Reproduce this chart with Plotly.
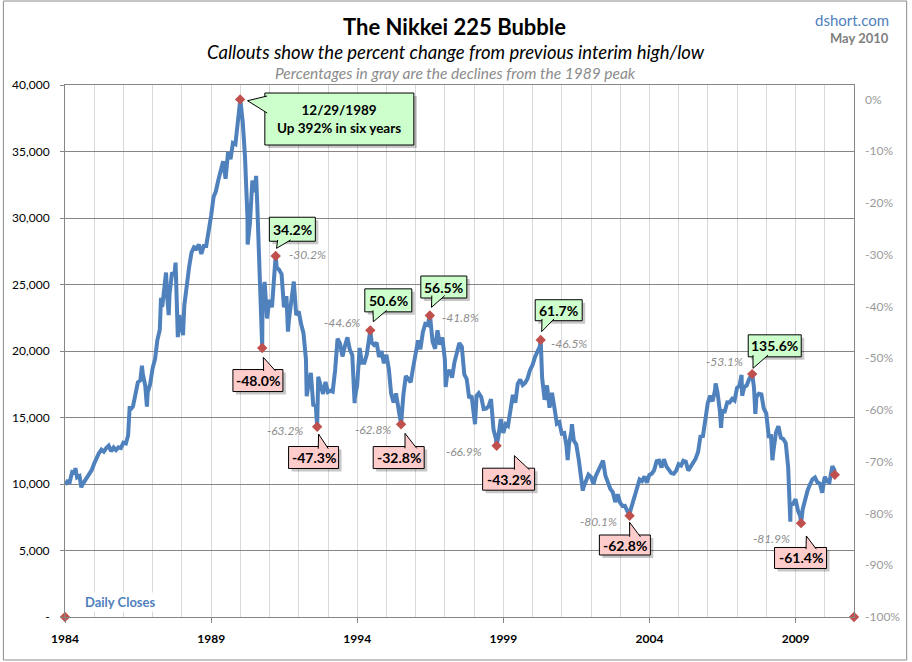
import calendar
import plotly.graph_objects as go

# ---------------- DATA ----------------
# Month-end closes, Jan 1984 .. Apr 2010 (one row per year)
monthly_closes = [
    10200, 10150, 10900, 10850, 10500, 10600, 9900, 10200, 10450, 10700, 11050, 11540,   # 1984
    11990, 12320, 12580, 12430, 12700, 12880, 12460, 12740, 12550, 12760, 12700, 13110,   # 1985
    13050, 13650, 15600, 15830, 16600, 17650, 17800, 18250, 17400, 16900, 17500, 18700,   # 1986
    19400, 20800, 21600, 23300, 24900, 24200, 24300, 25900, 25700, 23300, 22700, 21560,   # 1987
    23400, 24900, 26300, 27400, 27800, 27700, 28000, 27300, 27900, 27900, 28900, 30160,   # 1988
    31580, 31990, 32840, 33710, 34270, 32950, 34950, 34430, 35640, 35550, 37270, 38916,   # 1989
    37190, 34590, 29980, 29580, 32820, 31940, 31040, 25980, 21500, 25190, 22450, 23850,   # 1990
    23290, 26410, 26290, 26110, 25790, 23290, 24120, 22340, 23920, 25220, 22690, 22980,   # 1991
    22020, 21340, 19350, 17390, 18350, 15950, 15910, 18060, 17400, 16770, 17680, 16920,   # 1992
    17020, 16950, 18590, 20920, 20550, 19590, 20380, 21030, 20110, 19700, 16400, 17420,   # 1993
    20230, 19110, 19110, 19730, 20970, 20640, 20450, 20630, 19560, 19990, 19080, 19720,   # 1994
    18650, 16810, 16140, 16810, 15440, 14520, 16680, 18120, 17910, 17650, 18740, 19870,   # 1995
    20810, 20130, 21410, 22040, 21960, 22530, 20690, 20170, 21560, 20470, 21020, 19360,   # 1996
    18330, 18560, 18000, 19150, 20070, 20600, 20330, 18230, 17890, 16460, 16630, 15260,   # 1997
    16630, 16830, 16530, 15640, 15670, 15830, 16380, 14110, 13410, 13560, 14880, 13840,   # 1998
    14500, 14370, 15840, 16700, 16110, 17530, 17860, 17440, 17600, 17940, 18560, 18930,   # 1999
    19540, 19960, 20340, 17970, 16330, 17410, 15730, 16860, 15750, 14540, 14650, 13790,   # 2000
    13840, 12880, 12990, 13930, 13260, 12970, 11860, 10710, 9770, 10370, 10700, 10540,    # 2001
    9990, 10590, 11020, 11500, 11760, 10620, 10000, 9620, 9380, 8640, 9220, 8580,         # 2002
    8340, 8360, 7970, 7830, 8420, 9080, 9560, 10340, 10220, 10560, 10100, 10680,          # 2003
    10780, 11040, 11720, 11760, 11240, 11860, 11330, 11080, 10820, 10770, 11000, 11490,   # 2004
    11390, 11740, 11670, 11010, 11280, 11580, 11900, 12410, 13570, 13610, 14870, 16110,   # 2005
    16650, 16210, 17060, 16910, 15470, 15510, 15460, 16140, 16130, 16400, 16270, 17230,   # 2006
    17380, 17600, 17290, 17400, 17880, 18140, 17250, 16570, 16790, 16740, 15680, 15310,   # 2007
    13590, 13600, 12530, 13850, 14340, 13480, 13380, 13070, 11260, 8580, 8510, 8860,      # 2008
    7990, 7570, 8110, 8830, 9520, 9960, 10360, 10490, 10130, 10030, 9350, 10550,          # 2009
    10200, 10130, 11090, 11060,                                                           # 2010
]
first_year = 1984

# Intra-month highs / lows
extra_dates = ["1984-01-05", "1984-05-10", "1984-07-23", "1986-03-20", "1986-08-20", "1986-10-21",
               "1987-04-15", "1987-06-17", "1987-07-20", "1987-10-14", "1987-11-11", "1988-01-15",
               "1990-04-02", "1990-07-17", "1990-09-14", "1990-10-05", "1991-08-19", "1992-04-09",
               "1993-11-29", "1997-01-10", "1998-01-12", "2001-03-15", "2001-05-07", "2001-09-20",
               "2006-04-07", "2006-06-14", "2007-02-26", "2007-03-05", "2007-08-17", "2008-03-17",
               "2008-10-27", "2010-04-05"]
extra_closes = [9950, 11200, 9750, 15850, 18900, 15820,
                24000, 25900, 22700, 26650, 21040, 21200,
                28000, 33170, 23700, 23800, 21460, 16600,
                16080, 17300, 14500, 11800, 14500, 9500,
                17560, 14220, 18200, 16640, 15270, 11790,
                7160, 11340]

# Interim highs / lows (red diamonds)
tp_dates = ["1989-12-29", "1990-10-01", "1991-03-18", "1992-08-18", "1994-06-13", "1995-07-03",
            "1996-06-26", "1998-10-09", "2000-04-12", "2003-04-28", "2007-07-09", "2009-03-10",
            "2010-05-06"]
tp_closes = [38916, 20222, 27147, 14309, 21553, 14485, 22667, 12880, 20833, 7608, 18262, 7055, 10695]
callout_texts = ["12/29/1989<br>Up 392% in six years", "-48.0%", "34.2%", "-47.3%", "50.6%", "-32.8%",
                 "56.5%", "-43.2%", "61.7%", "-62.8%", "135.6%", "-61.4%", None]
peak_decline_texts = [None, None, "-30.2%", "-63.2%", "-44.6%", "-62.8%", "-41.8%", "-66.9%",
                      "-46.5%", "-80.1%", "-53.1%", "-81.9%", None]

# Axis anchor points (diamonds at the bottom corners)
anchor_dates = ["1984-01-01", "2011-01-01"]
anchor_closes = [0, 0]

left_tickvals = [0, 5000, 10000, 15000, 20000, 25000, 30000, 35000, 40000]
left_ticktext = ["-", "5,000", "10,000", "15,000", "20,000", "25,000", "30,000", "35,000", "40,000"]
right_tickvals = [0, -0.1, -0.2, -0.3, -0.4, -0.5, -0.6, -0.7, -0.8, -0.9, -1.0]
right_ticktext = ["0%", "-10%", "-20%", "-30%", "-40%", "-50%", "-60%", "-70%", "-80%", "-90%", "-100%"]
peak_value = 38916

# ---------------- BUILD SERIES ----------------
monthly_dates = []
for i in range(len(monthly_closes)):
    y = first_year + i // 12
    m = i % 12 + 1
    d = calendar.monthrange(y, m)[1]
    monthly_dates.append(f"{y:04d}-{m:02d}-{d:02d}")

pts = {}
for d, v in zip(monthly_dates, monthly_closes):
    pts[d] = v
for d, v in zip(extra_dates, extra_closes):
    pts[d] = v
for d, v in zip(tp_dates, tp_closes):
    pts[d] = v
series_dates = sorted(pts)
series_closes = [pts[d] for d in series_dates]

# ---------------- STYLE / LAYOUT ----------------
FONT = "Lato, Carlito, 'Open Sans', sans-serif"
BLUE = "#4F81BD"
RED = "#C0504D"
GREEN_BOX = "#CCFFCC"
PINK_BOX = "#FFCCCC"
GRID_DARK = "#868686"
GRID_LIGHT = "#D9D9D9"

W, H = 912, 662
L, R, T, B = 63, 55, 85, 45
PW, PH = W - L - R, H - T - B


def px(x):
    return (x - L) / PW


def py(y):
    return (H - B - y) / PH


fig = go.Figure()

fig.add_trace(go.Scatter(x=series_dates, y=series_closes, mode="lines",
                         line=dict(color=BLUE, width=4), hoverinfo="skip", showlegend=False))
fig.add_trace(go.Scatter(x=tp_dates + anchor_dates, y=tp_closes + anchor_closes, mode="markers",
                         marker=dict(symbol="diamond", size=8, color=RED),
                         cliponaxis=False, hoverinfo="skip", showlegend=False))
# percentage scale trace (right axis)
fig.add_trace(go.Scatter(x=tp_dates, y=[v / peak_value - 1 for v in tp_closes], yaxis="y2",
                         mode="markers", marker=dict(opacity=0), hoverinfo="skip", showlegend=False))

# callout geometry: (box centre dx, dy (screen px, down +), width, height, tail tip, base1, base2)
callout_geom = [
    (99.2, 19.6, 149, 52, (7.4, 1.3), (27, -3.4), (27, 13.6)),
    (-4.3, 32.5, 50, 22, (1.1, 9.3), (1.4, 23), (13.4, 23)),
    (16.7, -26.7, 46, 24, (0.9, -7.6), (2, -16), (15, -16)),
    (-3.6, 30.8, 50, 22, (1.4, 7.3), (1.1, 22), (11.1, 22)),
    (18, -30, 47, 23, (3, -8.6), (2.7, -20), (16.4, -20)),
    (-2.4, 33.2, 51, 22, (3.9, 9), (3.9, 24), (15.6, 24)),
    (14, -28.5, 46, 22, (1.7, -8.2), (2, -20), (15, -20)),
    (12, 33.5, 52, 22, (17.8, 10), (17.8, 24), (32.8, 24)),
    (18, -29.7, 47, 21, (1, -8.3), (1.3, -21), (13.3, -21)),
    (-4.7, 29.2, 51, 20, (0, 6.5), (0.1, 21), (10.8, 21)),
    (22.5, -28.3, 53, 22, (0.8, -5.8), (0.8, -19), (15.8, -19)),
    (-0.5, 34.8, 52, 21, (5.3, 12.8), (5, 26), (15.3, 26)),
]
# gray labels: (anchor side, xshift, screen dy)
gray_geom = [None, None, ("left", 11, -1), ("right", -12, 4), ("right", -8.6, -8), ("right", -8.4, 5),
             ("left", 10, 2), ("right", -12.2, 6), ("left", 8.3, 3.3), ("right", -10.2, 6),
             ("right", -7.5, -12.4), ("right", -9, 15), None]

shapes = []
annotations = []


def pt(p):
    return f"{p[0]},{-p[1]}"


for i, txt in enumerate(callout_texts):
    if txt is None:
        continue
    dx, dy, w, h, tip, b1, b2 = callout_geom[i]
    d, v = tp_dates[i], tp_closes[i]
    fill = GREEN_BOX if i % 2 == 0 else PINK_BOX
    common = dict(xref="x", yref="y", xsizemode="pixel", ysizemode="pixel",
                  xanchor=d, yanchor=v, layer="above")
    # shadow
    shapes.append(dict(type="rect", x0=dx - w / 2 + 3, x1=dx + w / 2 + 3,
                       y0=-(dy - h / 2) - 3, y1=-(dy + h / 2) - 3,
                       fillcolor="rgba(0,0,0,0.22)", line=dict(width=0), **common))
    # box
    shapes.append(dict(type="rect", x0=dx - w / 2, x1=dx + w / 2,
                       y0=-(dy - h / 2), y1=-(dy + h / 2),
                       fillcolor=fill, line=dict(color="black", width=1), **common))
    # tail fill
    shapes.append(dict(type="path", path=f"M {pt(b1)} L {pt(tip)} L {pt(b2)} Z",
                       fillcolor=fill, line=dict(width=0), **common))
    # tail outline
    shapes.append(dict(type="path", path=f"M {pt(b1)} L {pt(tip)} L {pt(b2)}",
                       fillcolor="rgba(0,0,0,0)", line=dict(color="black", width=1), **common))
    annotations.append(dict(x=d, y=v, xref="x", yref="y", text=f"<b>{txt}</b>", showarrow=False,
                            xshift=dx, yshift=-dy, xanchor="center", yanchor="middle",
                            font=dict(family=FONT, size=14 if i else 13.5, color="black")))

for i, txt in enumerate(peak_decline_texts):
    if txt is None:
        continue
    side, xs, dy = gray_geom[i]
    annotations.append(dict(x=tp_dates[i], y=tp_closes[i], xref="x", yref="y", text=f"<i>{txt}</i>",
                            showarrow=False, xshift=xs, yshift=-dy, xanchor=side, yanchor="middle",
                            font=dict(family=FONT, size=12, color="#8C8C8C")))

# titles and labels
annotations += [
    dict(x=px(455), y=py(26), xref="paper", yref="paper", text="<b>The Nikkei 225 Bubble</b>",
         showarrow=False, xanchor="center", yanchor="middle", font=dict(family=FONT, size=22, color="black")),
    dict(x=px(456), y=py(52), xref="paper", yref="paper",
         text="<i>Callouts show the percent change from previous interim high/low</i>",
         showarrow=False, xanchor="center", yanchor="middle", font=dict(family=FONT, size=18.5, color="black")),
    dict(x=px(456), y=py(73), xref="paper", yref="paper",
         text="<i>Percentages in gray are the declines from the 1989 peak</i>",
         showarrow=False, xanchor="center", yanchor="middle", font=dict(family=FONT, size=15.5, color="#8C8C8C")),
    dict(x=px(894), y=py(20), xref="paper", yref="paper", text="dshort.com",
         showarrow=False, xanchor="right", yanchor="middle", font=dict(family=FONT, size=15, color=BLUE)),
    dict(x=px(894), y=py(38), xref="paper", yref="paper", text="<b>May 2010</b>",
         showarrow=False, xanchor="right", yanchor="middle", font=dict(family=FONT, size=13, color="#7F7F7F")),
    dict(x=px(81), y=py(602), xref="paper", yref="paper", text="<b>Daily Closes</b>",
         showarrow=False, xanchor="left", yanchor="middle", bgcolor="white",
         font=dict(family=FONT, size=13, color=BLUE)),
]

# outer border
shapes.append(dict(type="rect", xref="paper", yref="paper", x0=px(1), x1=px(910), y0=py(1), y1=py(660),
                   line=dict(color="#8C8C8C", width=1), fillcolor="rgba(0,0,0,0)", layer="below"))

fig.update_layout(
    width=W, height=H,
    margin=dict(l=L, r=R, t=T, b=B),
    paper_bgcolor="white", plot_bgcolor="white",
    font=dict(family=FONT),
    showlegend=False,
    xaxis=dict(type="date", range=["1984-01-01", "2011-01-01"],
               tick0="1984-01-01", dtick="M60", tickformat="%Y",
               tickfont=dict(family=FONT, size=12, color="black", weight="bold"),
               ticks="outside", ticklen=5, tickcolor=GRID_DARK,
               showgrid=True, gridcolor=GRID_LIGHT, gridwidth=1,
               minor=dict(dtick="M12", tick0="1984-01-01", showgrid=True, gridcolor=GRID_LIGHT, ticklen=0),
               showline=True, linecolor=GRID_DARK, linewidth=1, mirror=True, zeroline=False,
               ticklabelstandoff=6),
    yaxis=dict(range=[0, 40000], tickmode="array", tickvals=left_tickvals, ticktext=left_ticktext,
               tickfont=dict(family=FONT, size=12, color="black"),
               ticks="outside", ticklen=4, tickcolor=GRID_DARK,
               showgrid=True, gridcolor=GRID_DARK, gridwidth=1,
               showline=True, linecolor=GRID_DARK, linewidth=1, mirror=True, zeroline=False,
               ticklabelstandoff=8),
    yaxis2=dict(overlaying="y", side="right", anchor="x",
                range=[-1, 40000 / peak_value - 1], tickmode="array",
                tickvals=right_tickvals, ticktext=right_ticktext,
                tickfont=dict(family=FONT, size=12, color="#9A9A9A"),
                showgrid=False, zeroline=False, showline=False, ticks="",
                ticklabelstandoff=10),
    shapes=shapes,
    annotations=annotations,
)

fig.write_html("out.html", config={"displayModeBar": False},
               post_script="document.body.style.margin='0px';document.body.style.overflow='hidden';")
